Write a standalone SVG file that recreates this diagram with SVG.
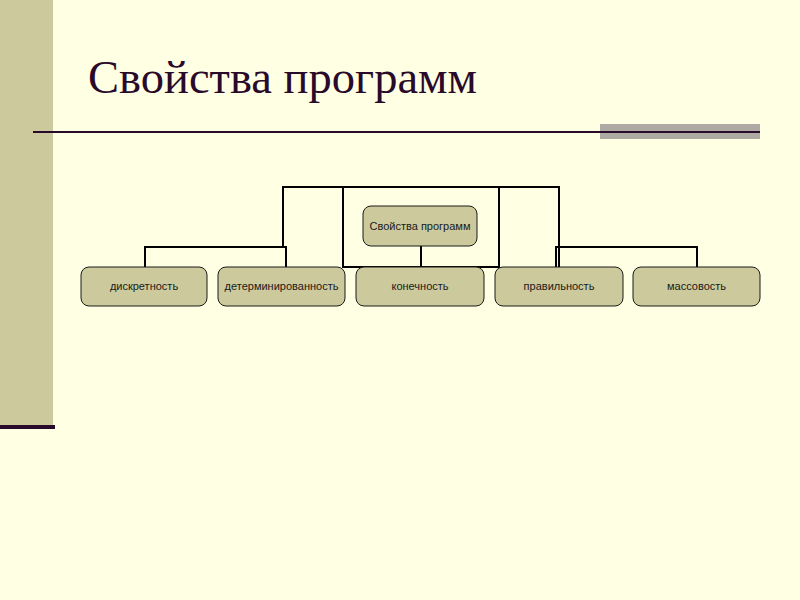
<svg xmlns="http://www.w3.org/2000/svg" width="800" height="600" viewBox="0 0 800 600">
<style>
.node rect{fill:#CCC99C;stroke:#1a1a1a;stroke-width:1}
.node text{font-family:"Liberation Sans",Arial,sans-serif;font-size:11px;fill:#1a1a1a;text-anchor:middle}
.conn{fill:none;stroke:#000;stroke-width:2}
</style>
<rect x="0" y="0" width="800" height="600" fill="#FFFFE3"/>
<rect x="0" y="0" width="53" height="425" fill="#CCC99C"/>
<rect x="0" y="425" width="55" height="4" fill="#2A0A2A"/>
<text x="88" y="93" font-family="'Liberation Serif','Times New Roman',serif" font-size="46" textLength="389" lengthAdjust="spacingAndGlyphs" fill="#2A0A2A">Свойства программ</text>
<rect x="600" y="124" width="160" height="15" fill="#AFA9A4"/>
<line x1="33" y1="132" x2="760" y2="132" stroke="#2A0A2A" stroke-width="2"/>
<g id="connectors" class="conn">
<rect x="343" y="187" width="156" height="80"/>
<polyline points="343,187 283,187 283,247 145,247 145,267"/>
<polyline points="283,247 286,247 286,267"/>
<polyline points="499,187 559,187 559,267"/>
<polyline points="559,247 697,247 697,267"/>
<polyline points="559,247 556,247 556,267"/>
<line x1="421" y1="246" x2="421" y2="267"/>
</g>
<g id="root" class="node"><rect x="363" y="206" width="114" height="40" rx="8"/><text x="420" y="230">Свойства программ</text></g>
<g id="n1" class="node"><rect x="81" y="267" width="126" height="39" rx="8"/><text x="144" y="290">дискретность</text></g>
<g id="n2" class="node"><rect x="218" y="267" width="127" height="39" rx="8"/><text x="281.5" y="290">детерминированность</text></g>
<g id="n3" class="node"><rect x="356" y="267" width="128" height="39" rx="8"/><text x="420" y="290">конечность</text></g>
<g id="n4" class="node"><rect x="495" y="267" width="128" height="39" rx="8"/><text x="559" y="290">правильность</text></g>
<g id="n5" class="node"><rect x="633" y="267" width="127" height="39" rx="8"/><text x="696.5" y="290">массовость</text></g>
</svg>
